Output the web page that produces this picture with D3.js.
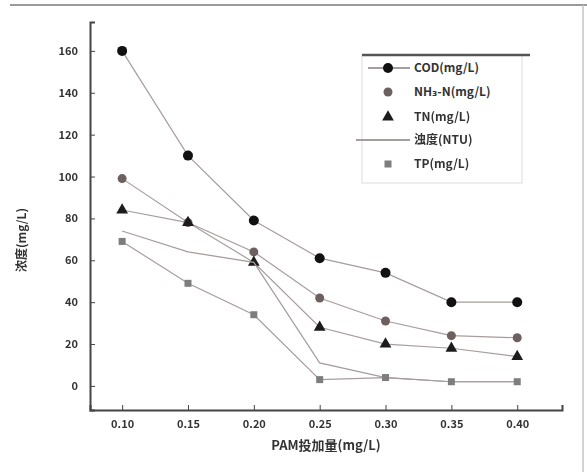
<!DOCTYPE html>
<html>
<head>
<meta charset="utf-8">
<script src="https://cdn.jsdelivr.net/npm/d3@7"></script>
<style>
  body { margin: 0; background: #fff; }
  svg { display: block; filter: blur(0.5px); }
  text { font-family: "Noto Sans CJK SC", "DejaVu Sans", sans-serif; font-weight: bold; fill: #333; }
</style>
</head>
<body>
<svg id="chart" width="587" height="472"></svg>
<script>
// dose on the x axis
var doses = [0.10, 0.15, 0.20, 0.25, 0.30, 0.35, 0.40];
var xTicks = ["0.10", "0.15", "0.20", "0.25", "0.30", "0.35", "0.40"];
var yTicks = [0, 20, 40, 60, 80, 100, 120, 140, 160];

var seriesNames = ["COD(mg/L)", "NH₃-N(mg/L)", "TN(mg/L)", "浊度(NTU)", "TP(mg/L)"];
var s1 = [160, 110, 79, 61, 54, 40, 40];
var s2 = [99, 78, 64, 42, 31, 24, 23];
var s3 = [84, 78, 59, 28, 20, 18, 14];
var s4 = [74, 64, 59, 11, 4, 2, 2];
var s5 = [69, 49, 34, 3, 4, 2, 2];

var xTitle = "PAM投加量(mg/L)";
var yTitle = "浓度(mg/L)";

function renderChart(element) {

	var svg = d3.select(element);

	var left = 90, right = 562, top = 22, bottom = 410;

	var x = d3.scaleLinear().domain([0.0756, 0.434]).range([left, right]);
	var y = d3.scaleLinear().domain([-11.5, 173.8]).range([bottom, top]);

	var allSeries = [
		{ name: seriesNames[0], values: s1, marker: "circle", color: "#111", r: 5 },
		{ name: seriesNames[1], values: s2, marker: "circle", color: "#6e5f60", r: 4.5 },
		{ name: seriesNames[2], values: s3, marker: "triangle", color: "#1c1c1c", r: 5 },
		{ name: seriesNames[3], values: s4, marker: "none", color: "#7a6a6a", r: 0 },
		{ name: seriesNames[4], values: s5, marker: "square", color: "#7d7d7d", r: 3.5 }
	];

	// picture frame
	svg.append("line").attr("x1", 10).attr("x2", 587).attr("y1", 5).attr("y2", 5)
		.attr("stroke", "#9a9a9a").attr("stroke-width", 2);
	svg.append("line").attr("x1", 583).attr("x2", 583).attr("y1", 5).attr("y2", 472)
		.attr("stroke", "#c4c4c4").attr("stroke-width", 1.5);

	// axes
	var xAxis = d3.axisBottom(x).tickValues(doses).tickFormat((d, i) => xTicks[i]).tickSize(-5).tickPadding(10);
	svg.append("g").attr("transform", "translate(0," + bottom + ")").call(xAxis)
		.call(g => g.select(".domain").attr("stroke", "#444").attr("stroke-width", 2))
		.call(g => g.selectAll(".tick line").attr("stroke", "#444"))
		.call(g => g.selectAll("text").attr("font-size", 11).style("fill", "#333"));

	var yAxis = d3.axisLeft(y).tickValues(yTicks).tickSize(-5).tickPadding(12);
	svg.append("g").attr("transform", "translate(" + left + ",0)").call(yAxis)
		.call(g => g.select(".domain").attr("stroke", "#444").attr("stroke-width", 2))
		.call(g => g.selectAll(".tick line").attr("stroke", "#444"))
		.call(g => g.selectAll("text").attr("font-size", 11).style("fill", "#333"));

	svg.append("text").attr("x", 326).attr("y", 450).attr("text-anchor", "middle")
		.attr("font-size", 13).text(xTitle);
	svg.append("text").attr("transform", "translate(26,240) rotate(-90)")
		.attr("text-anchor", "middle").attr("font-size", 12).text(yTitle);

	var line = d3.line().x((d, i) => x(doses[i])).y(d => y(d));

	function drawMarker(g, s, cx, cy) {
		if (s.marker == "circle") {
			g.append("circle").attr("cx", cx).attr("cy", cy).attr("r", s.r).attr("fill", s.color);
		} else if (s.marker == "triangle") {
			g.append("path").attr("transform", "translate(" + cx + "," + cy + ")")
				.attr("d", d3.symbol(d3.symbolTriangle, 60)()).attr("fill", s.color);
		} else if (s.marker == "square") {
			g.append("rect").attr("x", cx - s.r).attr("y", cy - s.r)
				.attr("width", s.r * 2).attr("height", s.r * 2).attr("fill", s.color);
		}
	}

	allSeries.forEach(s => {
		svg.append("path").datum(s.values).attr("d", line)
			.attr("fill", "none").attr("stroke", "#a89c9c").attr("stroke-width", 1.2);
		var g = svg.append("g");
		s.values.forEach((v, i) => drawMarker(g, s, x(doses[i]), y(v)));
	});

	// legend
	var lg = svg.append("g");
	lg.append("rect").attr("x", 362).attr("y", 55).attr("width", 160).attr("height", 128)
		.attr("fill", "#fff").attr("stroke", "#ddd");
	lg.append("line").attr("x1", 362).attr("x2", 530).attr("y1", 55).attr("y2", 55)
		.attr("stroke", "#555").attr("stroke-width", 2.5);
	var rowY = [68, 92, 117, 140, 164];
	allSeries.forEach((s, i) => {
		if (s.marker == "none" || i == 0) {
			lg.append("line").attr("x1", i == 0 ? 368 : 356).attr("x2", 410)
				.attr("y1", rowY[i]).attr("y2", rowY[i])
				.attr("stroke", "#8a7e7e").attr("stroke-width", 1.5);
		}
		drawMarker(lg, s, 388, rowY[i]);
		lg.append("text").attr("x", 414).attr("y", rowY[i]).attr("dy", "0.35em")
			.attr("font-size", 12).text(s.name);
	});
}

renderChart("#chart");
</script>
</body>
</html>
